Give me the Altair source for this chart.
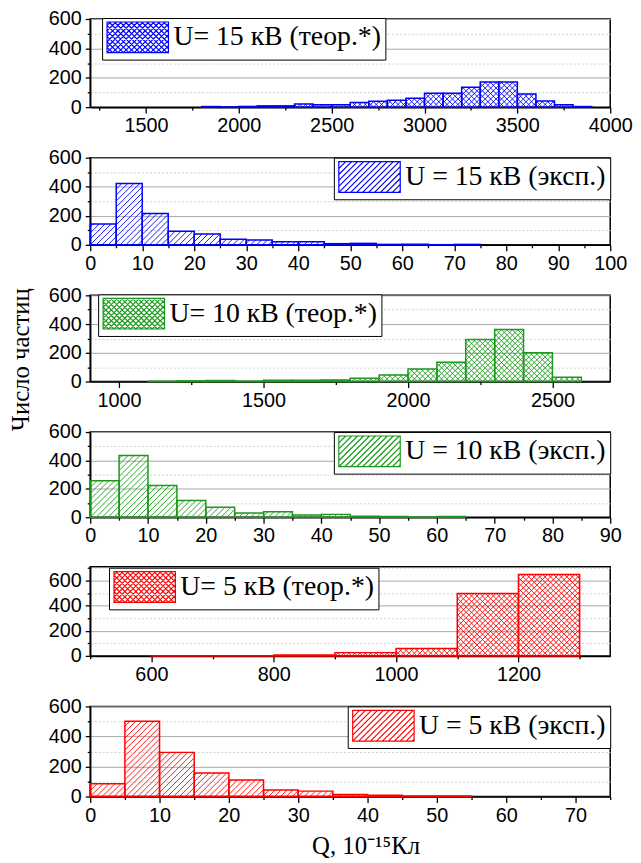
import math
import altair as alt
import pandas as pd

# ---------------- data ----------------
u15_theor_start = [1800, 1900, 2000, 2100, 2200, 2300, 2400, 2500, 2600, 2700,
                   2800, 2900, 3000, 3100, 3200, 3300, 3400, 3500, 3600, 3700, 3800]
u15_theor_count = [4, 2, 5, 9, 9, 22, 16, 16, 31, 40, 47, 60, 94, 94, 136, 172, 172, 89, 42, 16, 4]

u15_exp_start = [0, 5, 10, 15, 20, 25, 30, 35, 40, 45, 50, 55, 60, 65, 70]
u15_exp_count = [143, 423, 216, 94, 75, 39, 34, 21, 21, 8, 10, 3, 4, 1, 3]

u10_theor_start = [1100, 1200, 1300, 1400, 1500, 1600, 1700, 1800, 1900, 2000,
                   2100, 2200, 2300, 2400, 2500]
u10_theor_count = [2, 5, 7, 3, 9, 9, 11, 23, 46, 87, 135, 293, 362, 201, 30]

u10_exp_start = [0, 5, 10, 15, 20, 25, 30, 35, 40, 45, 50, 55, 60]
u10_exp_count = [257, 434, 223, 118, 70, 30, 39, 16, 20, 7, 5, 1, 5]

u5_theor_start = [600, 700, 800, 900, 1000, 1100, 1200]
u5_theor_count = [2, 2, 8, 26, 58, 497, 648]

u5_exp_start = [0, 5, 10, 15, 20, 25, 30, 35, 40, 45, 50]
u5_exp_count = [85, 501, 294, 157, 110, 43, 36, 13, 9, 3, 3]

series_labels = ["U= 15 кВ (теор.*)", "U = 15 кВ (эксп.)",
                 "U= 10 кВ (теор.*)", "U = 10 кВ (эксп.)",
                 "U= 5 кВ (теор.*)", "U = 5 кВ (эксп.)"]
x_title = "Q, 10⁻¹⁵Кл"
y_title = "Число частиц"

# ---------------- styling / layout ----------------
BLUE, GREEN, RED = "#0000ff", "#1a9a1a", "#ff0000"
PLOT_W = 525
SERIF = "Liberation Serif"
SANS = "Liberation Sans"
SYM_R = 14.5       # legend symbol scale (px per path unit)

specs = [
    dict(start=u15_theor_start, count=u15_theor_count, binw=100, label=series_labels[0], color=BLUE,
         cross=True, xdom=(1200, 4000), xticks=list(range(1250, 4001, 250)), lstep=500,
         ymax=600, h=89, orient="none", lx=12, ly=-1),
    dict(start=u15_exp_start, count=u15_exp_count, binw=5, label=series_labels[1], color=BLUE,
         cross=False, xdom=(0, 100), xticks=list(range(0, 101, 5)), lstep=10,
         ymax=600, h=88, orient="top-right"),
    dict(start=u10_theor_start, count=u10_theor_count, binw=100, label=series_labels[2], color=GREEN,
         cross=True, xdom=(900, 2700), xticks=list(range(1000, 2701, 250)), lstep=500,
         ymax=600, h=87, orient="none", lx=8, ly=-1),
    dict(start=u10_exp_start, count=u10_exp_count, binw=5, label=series_labels[3], color=GREEN,
         cross=False, xdom=(0, 90), xticks=list(range(0, 91, 5)), lstep=10,
         ymax=600, h=86, orient="top-right"),
    dict(start=u5_theor_start, count=u5_theor_count, binw=100, label=series_labels[4], color=RED,
         cross=True, xdom=(500, 1350), xticks=list(range(500, 1351, 100)), lstep=200,
         ymax=710, h=90, orient="none", lx=19, ly=1),
    dict(start=u5_exp_start, count=u5_exp_count, binw=5, label=series_labels[5], color=RED,
         cross=False, xdom=(0, 75), xticks=list(range(0, 76, 5)), lstep=10,
         ymax=600, h=91, orient="top-right"),
]


def clip_lines(L, R, H, dirs, d, m=1.0):
    """Hatch segments (pixel space, y up) clipped to rectangle [L,R] x [0,H]."""
    segs = []
    kmin = int(math.floor((L - H / m) / d)) - 1
    kmax = int(math.ceil((R + H / m) / d)) + 1
    for dirn in dirs:
        for k in range(kmin, kmax + 1):
            c0 = k * d
            if dirn == 1:
                xa, xb = c0, c0 + H / m
            else:
                xa, xb = c0 - H / m, c0
            lo, hi = max(L, xa), min(R, xb)
            if hi - lo < 0.4:
                continue
            if dirn == 1:
                ya, yb = m * (lo - c0), m * (hi - c0)
            else:
                ya, yb = m * (c0 - lo), m * (c0 - hi)
            segs.append((lo, ya, hi, yb))
    return segs


def hatch_step(cross):
    return 5.5 if cross else 6.0


def hatch_frame(sp):
    x0, x1 = sp["xdom"]
    sx = PLOT_W / (x1 - x0)
    sy = sp["h"] / sp["ymax"]
    dirs = (1, -1) if sp["cross"] else (1,)
    rows = []
    for s, c in zip(sp["start"], sp["count"]):
        H = c * sy
        if H < 1.5:
            continue
        L = (s - x0) * sx
        R = (s + sp["binw"] - x0) * sx
        for (a, ya, b, yb) in clip_lines(L, R, H, dirs, hatch_step(sp["cross"])):
            rows.append(dict(hx=x0 + a / sx, hx2=x0 + b / sx, hy=ya / sy, hy2=yb / sy))
    return pd.DataFrame(rows)


def swatch_path(cross):
    W, H, r = 62.0, 31.0, SYM_R
    top = -H / 2 / r
    parts = ["M-1,%.3fH%.3fV%.3fH-1Z" % (top, W / r - 1, -top)]
    dirs = (1, -1) if cross else (1,)
    for (a, ya, b, yb) in clip_lines(0, W, H, dirs, hatch_step(cross)):
        parts.append("M%.3f,%.3fL%.3f,%.3f" % (a / r - 1, (H / 2 - ya) / r, b / r - 1, (H / 2 - yb) / r))
    return "".join(parts)


def make_panel(sp, last):
    xs = alt.Scale(domain=list(sp["xdom"]), nice=False, zero=False)
    ys = alt.Scale(domain=[0, sp["ymax"]], nice=False, zero=True)
    lstep = sp["lstep"]
    x_kw = dict(
        values=sp["xticks"], format="d",
        labelExpr=f"datum.value % {lstep} === 0 ? datum.label : ''",
        labelFlush=False, labelOverlap=False, grid=False,
        tickSize={"condition": {"test": f"datum.value % {lstep} === 0", "value": 6}, "value": 3},
        labelPadding=3,
    )
    if last:
        xaxis = alt.Axis(title=x_title, titlePadding=9, titleX=278, **x_kw)
    else:
        xaxis = alt.Axis(title=None, **x_kw)
    yvals = list(range(0, sp["ymax"] + 1, 100))
    yaxis = alt.Axis(
        values=yvals, format="d",
        labelExpr="datum.value % 200 === 0 ? datum.label : ''",
        labelFlush=False, labelOverlap=False, grid=True,
        gridColor={"condition": {"test": "datum.value % 200 === 0", "value": "#a8a8a8"}, "value": "#cfcfcf"},
        gridDash={"condition": {"test": "datum.value % 200 === 0", "value": []}, "value": [2, 2]},
        gridWidth=1,
        tickSize={"condition": {"test": "datum.value % 200 === 0", "value": 5}, "value": 3},
        labelPadding=4, title=None,
    )
    df = pd.DataFrame({"start": sp["start"], "count": sp["count"]})
    df["end"] = df["start"] + sp["binw"]
    df["base"] = 0
    df["series"] = sp["label"]

    leg_kw = dict(
        title=None, symbolType=swatch_path(sp["cross"]), symbolSize=(2 * SYM_R) ** 2,
        symbolStrokeWidth=1.2, labelFont=SERIF, labelFontSize=28, labelColor="black",
        labelOffset=37, labelLimit=600, fillColor="white", strokeColor="black",
        padding=4, cornerRadius=0,
    )
    if sp["orient"] == "none":
        legend = alt.Legend(orient="none", legendX=sp["lx"], legendY=sp["ly"],
                            labelExpr="datum.label + '\u00a0\u00a0\u00a0'", **leg_kw)
    else:
        legend = alt.Legend(orient="top-right", offset=0, **leg_kw)

    bars = alt.Chart(df).mark_rect(fill="transparent", strokeWidth=1.5).encode(
        x=alt.X("start:Q", scale=xs, axis=xaxis),
        x2="end:Q",
        y=alt.Y("count:Q", scale=ys, axis=yaxis),
        y2="base:Q",
        stroke=alt.Stroke("series:N", scale=alt.Scale(domain=[sp["label"]], range=[sp["color"]]),
                          legend=legend),
    )
    hatch = alt.Chart(hatch_frame(sp)).mark_rule(color=sp["color"], strokeWidth=0.9).encode(
        x=alt.X("hx:Q", scale=xs, axis=xaxis),
        x2="hx2:Q",
        y=alt.Y("hy:Q", scale=ys, axis=yaxis),
        y2="hy2:Q",
    )
    return alt.layer(hatch, bars).properties(width=PLOT_W, height=sp["h"])


panels = [make_panel(sp, i == len(specs) - 1) for i, sp in enumerate(specs)]

chart = (
    alt.vconcat(*panels, spacing=10)
    .resolve_scale(x="independent", y="independent", stroke="independent")
    .resolve_legend(stroke="independent")
    .properties(
        title=alt.TitleParams(y_title, orient="left", anchor="middle", dx=75, font=SERIF,
                              fontSize=25, fontWeight="normal", color="black", offset=14),
        padding={"left": 0, "top": -4, "right": 0, "bottom": 0},
        background="white",
    )
    .configure_view(stroke="black", strokeWidth=1.5)
    .configure_axis(
        domainColor="black", domainWidth=1.5, tickColor="black", tickWidth=1.3,
        labelFont=SANS, labelFontSize=20, labelColor="black",
        titleFont=SERIF, titleFontSize=25, titleFontWeight="normal", titleColor="black",
    )
)

chart.save("out.html", embed_options={"renderer": "svg", "actions": False})
